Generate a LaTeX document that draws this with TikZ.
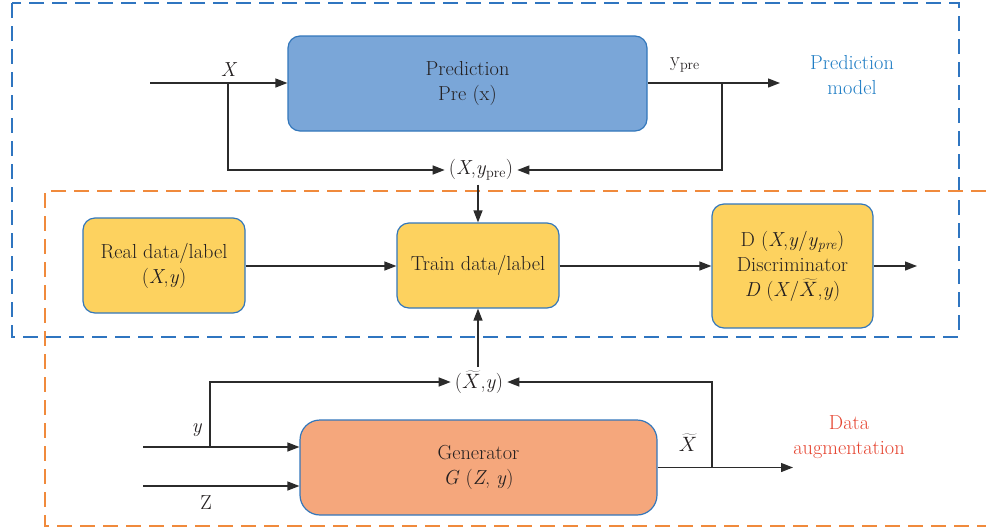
\documentclass[tikz,border=0pt]{standalone}
\usepackage{fontspec}
\usetikzlibrary{arrows.meta}

\definecolor{inkc}{HTML}{231F20}
\definecolor{linec}{HTML}{2B2B2B}
\definecolor{edgeblue}{HTML}{3377BB}
\definecolor{predfill}{HTML}{7AA6D8}
\definecolor{yellowfill}{HTML}{FDD25F}
\definecolor{genfill}{HTML}{F5A77C}
\definecolor{dashblue}{HTML}{2F75C0}
\definecolor{dashorange}{HTML}{F08A3C}
\definecolor{labelblue}{HTML}{1F7DC4}
\definecolor{labelred}{HTML}{E5432F}

\newcommand{\tX}{\ensuremath{\widetilde{X}}}

\tikzset{
  txt/.style={font=\fontsize{20.3}{25}\selectfont, text=inkc, align=center},
  block/.style={txt, draw=edgeblue, line width=1.2pt, rounded corners=12pt, inner sep=0pt},
  predbox/.style={block, fill=predfill, minimum width=359pt, minimum height=95pt},
  ybox/.style={block, fill=yellowfill},
  genbox/.style={block, fill=genfill, minimum width=357pt, minimum height=95pt, rounded corners=20pt},
  conn/.style={draw=linec, line width=1.3pt, -{Triangle[length=12pt,width=9pt]}},
  region/.style={line width=2pt, dash pattern=on 15pt off 8pt},
  tag/.style={txt, inner sep=2pt}
}

\begin{document}
\begin{tikzpicture}[x=1pt,y=-1pt]
\useasboundingbox (0,0) rectangle (986,531);

% dashed regions
\draw[region, draw=dashblue] (12,3) rectangle (959,337);
\draw[region, draw=dashorange] (986,191) -- (45,191) -- (45,526) -- (986,526);

% blocks
\node[predbox] (pred) at (467.5,83.5) {Prediction\\Pre (x)};
\node[ybox, minimum width=162pt, minimum height=95pt] (real) at (164,265.5)
  {Real data/label\\(\textit{X},\textit{y})};
\node[ybox, minimum width=162pt, minimum height=85pt] (train) at (478,265.5)
  {Train data/label};
\node[ybox, minimum width=161pt, minimum height=124pt] (disc) at (792.5,266)
  {D (\textit{X},\textit{y}/\textit{y}\textsubscript{\textit{pre}})\\Discriminator\\
   \textit{D} (\textit{X}/\tX,\textit{y})};
\node[genbox] (gen) at (478.5,467.5) {Generator\\\textit{G} (\textit{Z}, \textit{y})};

% junction labels
\node[tag, inner sep=4pt] (xy) at (481,170) {(\textit{X},\textit{y}\textsubscript{pre})};
\node[tag, inner sep=4pt] (xt) at (479,382) {(\tX,\textit{y})};

% coordinates for the signal lines
\coordinate (xin) at (150,83);
\coordinate (xbr) at (228,83);
\coordinate (yout) at (780,83);
\coordinate (ybr) at (722,83);
\coordinate (dout) at (917,266);
\coordinate (yin) at (143,447);
\coordinate (ygbr) at (210,447);
\coordinate (zin) at (143,486);
\coordinate (gout) at (793,467.5);
\coordinate (gbr) at (712,467.5);

% prediction model
\draw[conn] (xin) -- (pred.west |- xin);
\draw[conn] (pred.east |- yout) -- (yout);
\draw[conn] (xbr) |- (xy.west);
\draw[conn] (ybr) |- (xy.east);
\draw[conn] (xy.south -| train.north) -- (train.north);

% discriminator chain
\draw[conn] (real.east |- dout) -- (train.west |- dout);
\draw[conn] (train.east |- dout) -- (disc.west |- dout);
\draw[conn] (disc.east |- dout) -- (dout);

% data augmentation
\draw[conn] (yin) -- (gen.west |- yin);
\draw[conn] (zin) -- (gen.west |- zin);
\draw[conn] (ygbr) |- (xt.west);
\draw[conn] (gen.east) -- (gout);
\draw[conn] (gbr) |- (xt.east);
\draw[conn] (xt.north -| train.south) -- (train.south);

% signal labels
\node[tag] (lx) at (229,70) {\textit{X}};
\node[tag] (lypre) at (685,65) {y\textsubscript{pre}};
\node[tag] (ly) at (197,430) {\textit{y}};
\node[tag] (lz) at (206,503) {Z};
\node[tag] (lxt) at (688,443) {\tX};

% region captions
\node[tag, text=labelblue] (cappred) at (852,75) {Prediction\\model};
\node[tag, text=labelred] (capaug) at (849,437) {Data\\augmentation};
\end{tikzpicture}
\end{document}
